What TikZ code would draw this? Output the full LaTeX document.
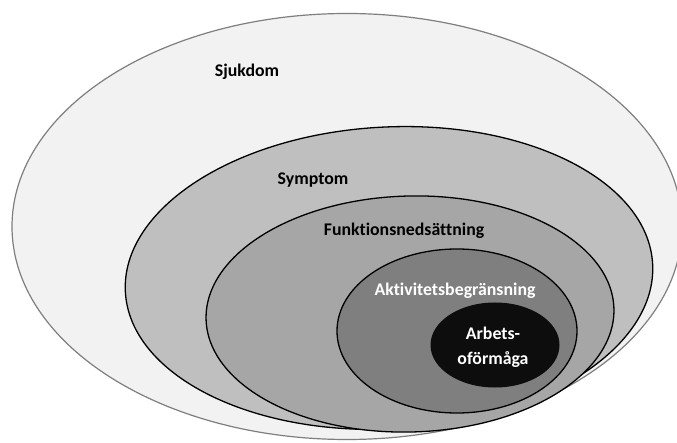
\documentclass[tikz,border=0pt]{standalone}
\usepackage{fontspec}
\setmainfont[Ligatures={NoCommon}]{Carlito}
\definecolor{cOuter}{HTML}{F2F2F2}
\definecolor{cOuterLine}{HTML}{7F7F7F}
\definecolor{cSymptom}{HTML}{BFBFBF}
\definecolor{cFunk}{HTML}{A6A6A6}
\definecolor{cAkt}{HTML}{7F7F7F}
\definecolor{cArb}{HTML}{0D0D0D}
\begin{document}
\begin{tikzpicture}[x=1pt,y=-1pt,
  ring/.style={draw=black, line width=1.3pt},
  lbl/.style={font=\bfseries\fontsize{17.8}{25}\selectfont, align=center, inner sep=0pt}]
\useasboundingbox (0,0) rectangle (677,443);
\clip (0,0) rectangle (677,443);
\fill[white] (0,0) rectangle (677,443);
% Sjukdom
\draw[draw=cOuterLine, fill=cOuter, line width=1.2pt] (347,226.5) ellipse [x radius=335, y radius=213];
% Symptom
\draw[ring, fill=cSymptom, rotate around={3:(389,278)}] (389,278) ellipse [x radius=264, y radius=151];
% Funktionsnedsattning
\draw[ring, fill=cFunk, rotate around={1.5:(410,314)}] (410,314) ellipse [x radius=204, y radius=118];
% Aktivitetsbegransning
\draw[ring, fill=cAkt] (457,331) ellipse [x radius=120, y radius=82];
% Arbetsoformaga
\draw[draw=cArb, fill=cArb, line width=1pt] (495,345) ellipse [x radius=64, y radius=42];
% labels
\node[lbl] (sjukdom) at (247,72) {Sjukdom};
\node[lbl] (symptom) at (313,180) {Symptom};
\node[lbl] (funk) at (404,231) {Funktionsnedsättning};
\node[lbl, text=white] (akt) at (455,291) {Aktivitetsbegränsning};
\node[lbl, text=white] (arb) at (493,347) {Arbets-\\oförmåga};
\end{tikzpicture}
\end{document}
